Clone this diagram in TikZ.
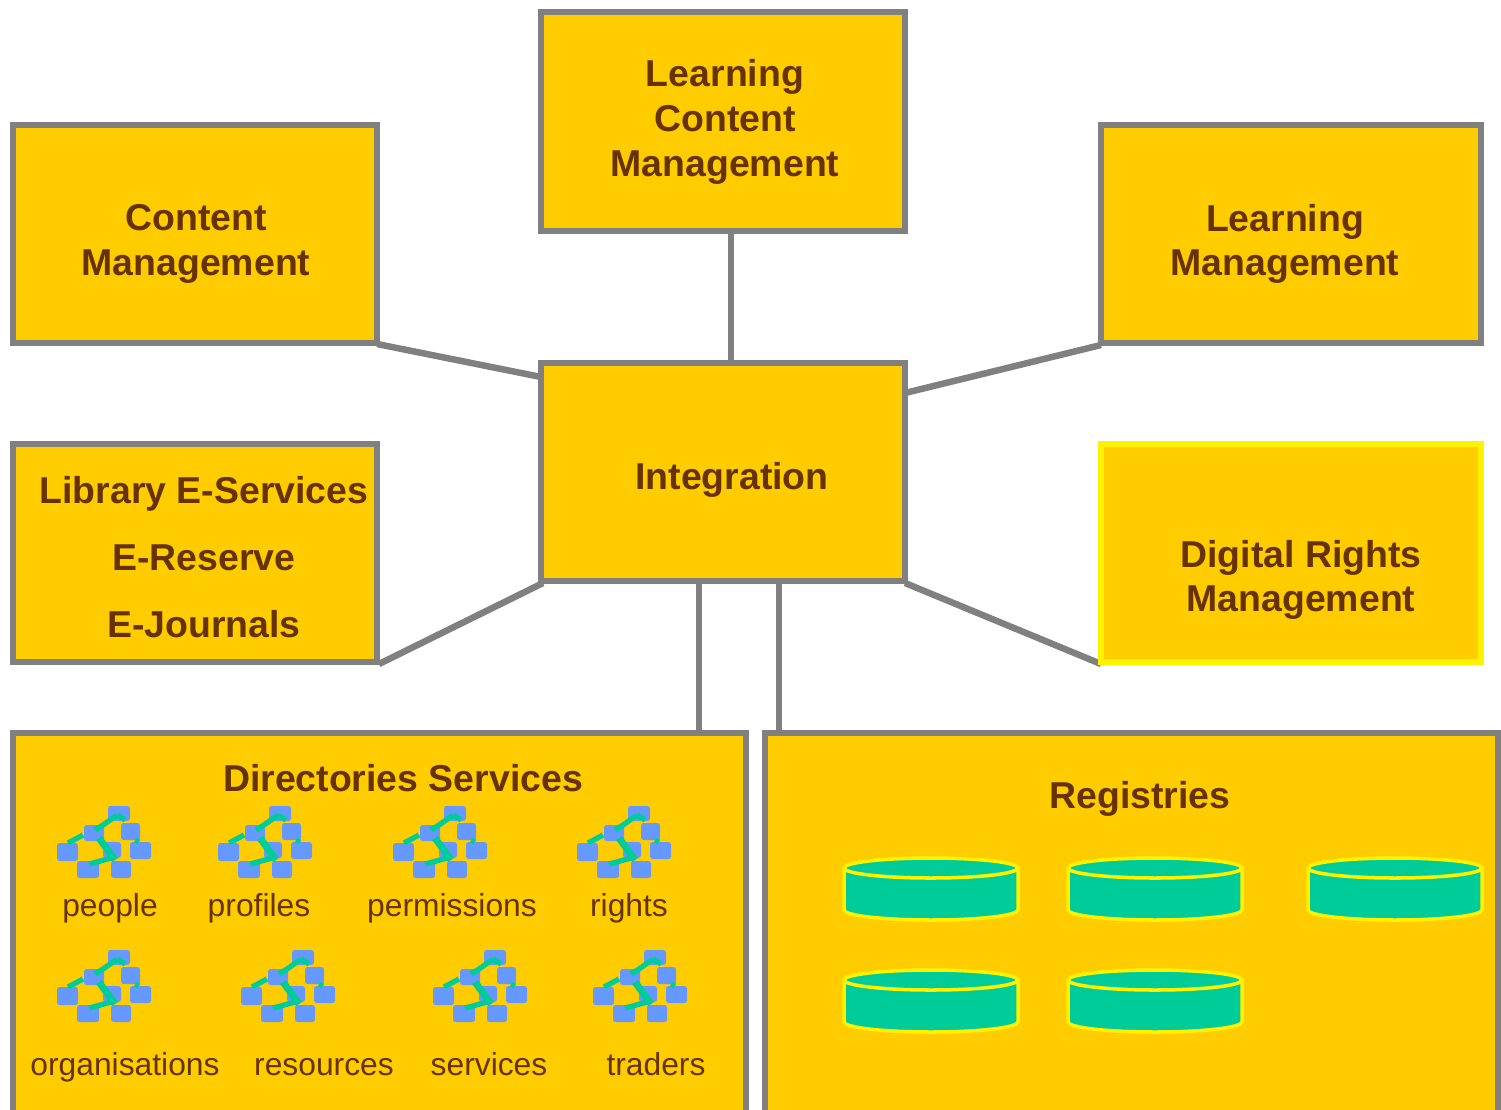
\documentclass[tikz,border=0pt]{standalone}
\usepackage{fontspec}
\setmainfont{Liberation Sans}
\usepackage{tikz}
\definecolor{boxfill}{HTML}{FFCC00}
\definecolor{boxline}{HTML}{808080}
\definecolor{inktext}{HTML}{663300}
\definecolor{dbgreen}{HTML}{00CC99}
\definecolor{treeblue}{HTML}{6699FF}
\tikzset{block/.style={draw=boxline,fill=boxfill,line width=3.7pt,outer sep=0pt,inner sep=0pt}}
\tikzset{link/.style={draw=boxline,line width=3.7pt}}
\tikzset{t/.style={font=\fontsize{21.3}{25.4}\selectfont\bfseries,text=inktext,align=center,inner sep=0pt}}
\tikzset{tt/.style={font=\fontsize{21.3}{38}\selectfont\bfseries,text=inktext,align=center,inner sep=0pt}}
\tikzset{s/.style={font=\fontsize{18.1}{18}\selectfont,text=inktext,inner sep=0pt,anchor=base}}
\tikzset{leaf/.style={fill=treeblue,rounded corners=1.5pt}}
\tikzset{branch/.style={draw=dbgreen,line width=3pt}}
\tikzset{treeicon/.pic={
  \fill[leaf] (51,0) rectangle (73,15);
  \fill[leaf] (27,19) rectangle (47,35);
  \fill[leaf] (64,17) rectangle (83,34);
  \fill[leaf] (46,36) rectangle (64,52);
  \fill[leaf] (0,37) rectangle (21,55);
  \fill[leaf] (73,36) rectangle (94,53);
  \fill[leaf] (20,55) rectangle (42,72);
  \fill[leaf] (54,55) rectangle (74,72);
  \draw[branch] (60,9)--(46,19)--(38,24);
  \draw[branch] (60,9)--(68,14);
  \draw[branch] (26,29)--(11,37);
  \draw[branch] (78,34)--(82,36);
  \draw[branch,line width=4pt] (42,32)--(58,54);
  \draw[branch] (58,51)--(32,58);
}}
\tikzset{dbdisk/.pic={
  \draw[yellow,fill=dbgreen,line width=2pt] (-87,10) arc[start angle=180,end angle=360,x radius=87,y radius=10]
    --(87,52) arc[start angle=0,end angle=180,x radius=87,y radius=10]--cycle;
  \draw[yellow,line width=2pt] (-87,10) arc[start angle=180,end angle=0,x radius=87,y radius=10];
}}
\begin{document}
\begin{tikzpicture}[x=0.02cm,y=-0.02cm]
  \clip (0,0) rectangle (1501,1109);
  % connectors first, boxes sit on their ends
  \coordinate (cmend) at (377,344);
  \coordinate (cmint) at (541,377);
  \coordinate (lcmend) at (731,231);
  \coordinate (lcmint) at (731,363);
  \coordinate (lmend) at (1101,345);
  \coordinate (lmint) at (905,393);
  \coordinate (libend) at (379,664);
  \coordinate (libint) at (543,583);
  \coordinate (drmend) at (1101,664);
  \coordinate (drmint) at (905,583);
  \coordinate (dirend) at (699,733);
  \coordinate (dirint) at (699,581);
  \coordinate (regend) at (779,733);
  \coordinate (regint) at (779,581);
  \draw[link] (cmend)--(cmint);
  \draw[link] (lcmend)--(lcmint);
  \draw[link] (lmend)--(lmint);
  \draw[link] (libend)--(libint);
  \draw[link] (drmend)--(drmint);
  \draw[link] (dirend)--(dirint);
  \draw[link] (regend)--(regint);

  \node[block,minimum width=7.28cm,minimum height=4.38cm] (lcm) at (723,121.5) {};
  \node[block,minimum width=7.28cm,minimum height=4.36cm] (cm) at (195,234) {};
  \node[block,minimum width=7.6cm,minimum height=4.36cm] (lm) at (1291,234) {};
  \node[block,minimum width=7.28cm,minimum height=4.36cm] (integ) at (723,472) {};
  \node[block,minimum width=7.28cm,minimum height=4.36cm] (lib) at (195,553) {};
  \node[block,draw=yellow,minimum width=7.6cm,minimum height=4.36cm] (drm) at (1291,553) {};
  \node[block,minimum width=14.66cm,minimum height=7.64cm] (dir) at (379.5,924) {};
  \node[block,minimum width=14.66cm,minimum height=7.64cm] (reg) at (1131.5,924) {};

  \node[t] (lcmtext) at (725,122) {Learning\\Content\\Management};
  \node[t] (cmtext) at (196,244) {Content\\Management};
  \node[t] (lmtext) at (1285,244) {Learning\\Management};
  \node[t] (integtext) at (732,480) {Integration};
  \node[tt] (libtext) at (204,557) {Library E-Services\\E-Reserve\\E-Journals};
  \node[t] (drmtext) at (1301,580) {Digital Rights\\Management};
  \node[t] (dirtext) at (403,778) {Directories Services};
  \node[t] (regtext) at (1140,799) {Registries};

  \pic (tree1) at (57,806) {treeicon};
  \pic (tree2) at (218,806) {treeicon};
  \pic (tree3) at (393,806) {treeicon};
  \pic (tree4) at (577,806) {treeicon};
  \pic (tree5) at (57,950) {treeicon};
  \pic (tree6) at (241,950) {treeicon};
  \pic (tree7) at (433,950) {treeicon};
  \pic (tree8) at (593,950) {treeicon};

  \node[s] (people) at (110,916) {people};
  \node[s] (profiles) at (259,916) {profiles};
  \node[s] (permissions) at (452,916) {permissions};
  \node[s] (rights) at (629,916) {rights};
  \node[s] (organisations) at (125,1075) {organisations};
  \node[s] (resources) at (324,1075) {resources};
  \node[s] (services) at (489,1075) {services};
  \node[s] (traders) at (656,1075) {traders};

  \pic (disk1) at (931,858) {dbdisk};
  \pic (disk2) at (1155,858) {dbdisk};
  \pic (disk3) at (1395,858) {dbdisk};
  \pic (disk4) at (931,970) {dbdisk};
  \pic (disk5) at (1155,970) {dbdisk};
\end{tikzpicture}
\end{document}
